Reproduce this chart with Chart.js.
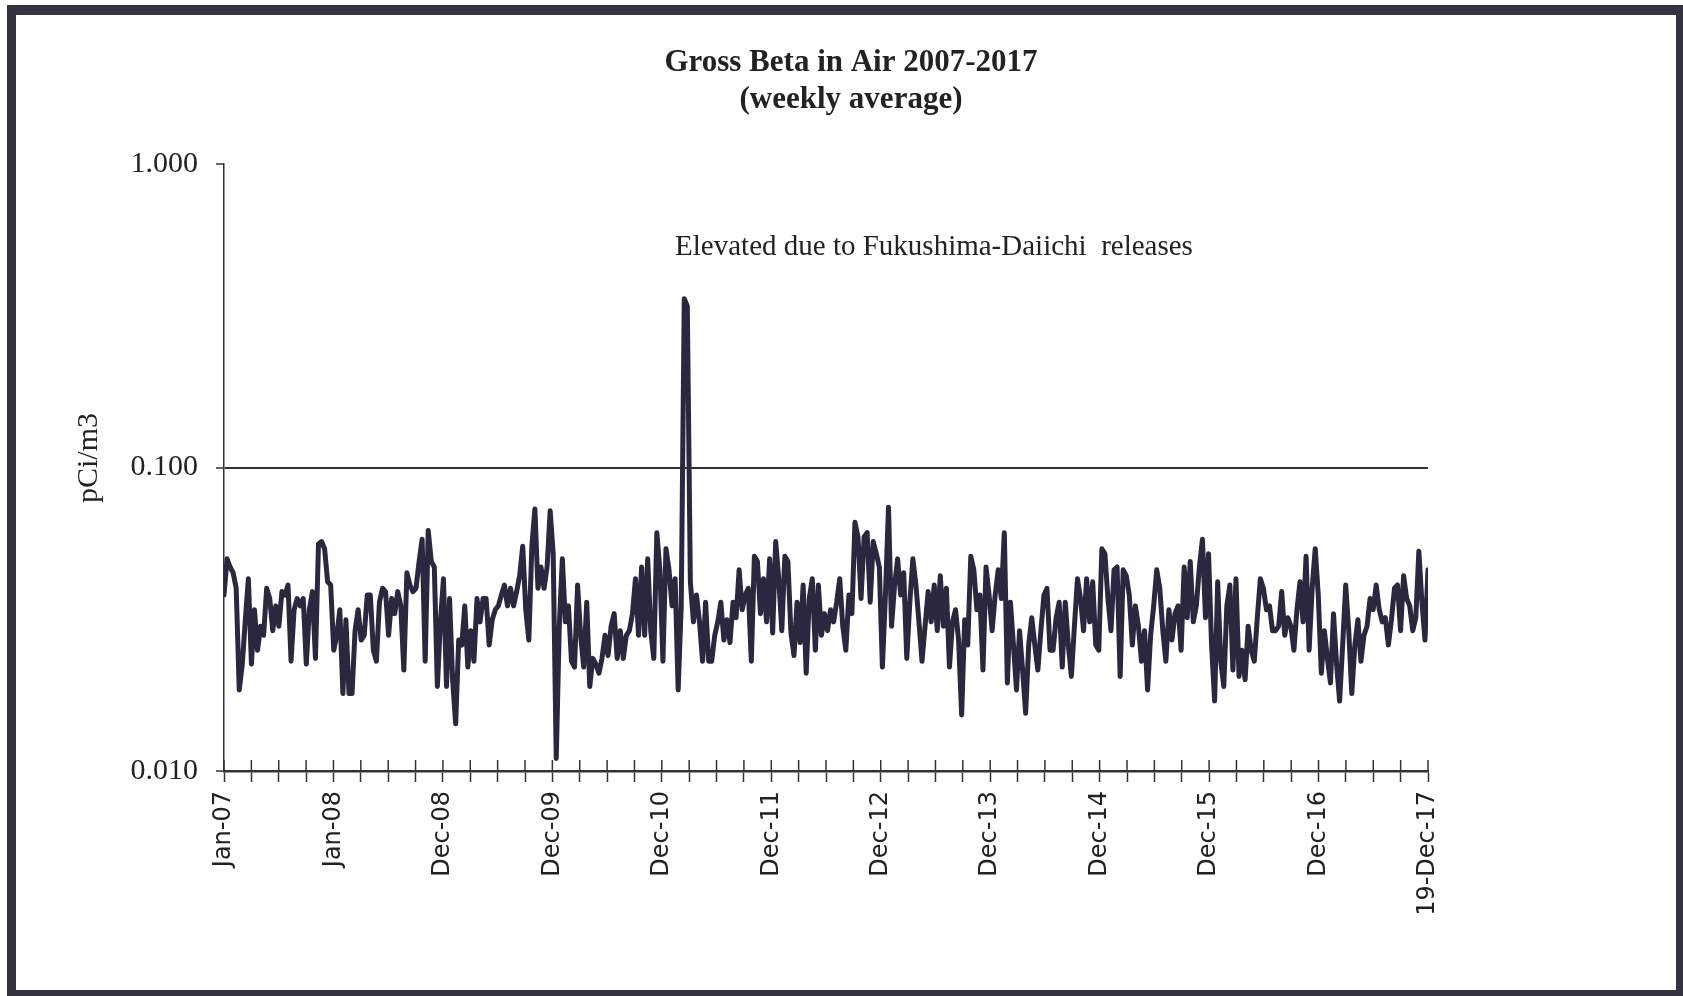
<!DOCTYPE html>
<html>
<head>
<meta charset="utf-8">
<title>Gross Beta in Air 2007-2017</title>
<script src="https://cdn.jsdelivr.net/npm/chart.js@4.4.0/dist/chart.umd.min.js"></script>
<style>
  body { margin: 0; background: #fff; overflow: hidden; }
  #wrap { position: relative; width: 1683px; height: 996px; overflow: hidden; }
  #frame { position: absolute; left: 7px; top: 5px; width: 1660px; height: 975px; border-style: solid; border-color: #34333f; border-width: 10px 7px 6px 9px; pointer-events: none; }
  canvas { position: absolute; left: 0; top: 0; }
</style>
</head>
<body>
<div id="wrap">
  <canvas id="betaChart" width="1683" height="996"></canvas>
  <div id="frame"></div>
</div>
<script>
// weekly gross beta, pCi/m3 in consecutive stretches
const part1 = [0.038,0.050,0.047,0.045,0.040,0.0185,0.0225,0.0315,0.043,0.0225,0.034,0.025,0.030,0.028,0.040,0.037,0.029,0.035,0.030,0.039,0.038,0.041,0.023,0.034,0.037,0.035,0.037,0.0225,0.034,0.039,0.0235,0.056,0.057,0.054,0.042,0.041,0.025,0.028,0.034,0.018,0.0315,0.018,0.018,0.029,0.034,0.027,0.028,0.038,0.038,0.025];
const part2 = [0.023,0.036,0.040,0.039,0.028,0.037,0.033,0.039,0.035,0.0215,0.045,0.041,0.039,0.040,0.049,0.058,0.023,0.062,0.049,0.047,0.019,0.031,0.043,0.019,0.037,0.020,0.0143,0.027,0.026,0.035,0.022,0.029,0.023,0.037,0.031,0.037,0.037,0.026,0.0315,0.034,0.035,0.038,0.041,0.035,0.040,0.035,0.039,0.044,0.055];
const part3 = [0.034,0.027,0.055,0.073,0.040,0.047,0.040,0.047,0.072,0.052,0.011,0.030,0.050,0.031,0.035,0.023,0.022,0.041,0.028,0.022,0.036,0.019,0.0235,0.0225,0.021,0.0235,0.028,0.024,0.030,0.033,0.0235,0.029,0.0235,0.028,0.029,0.033,0.043,0.028,0.047,0.028,0.050,0.029,0.0235,0.061,0.046,0.023,0.054,0.046,0.035,0.043,0.0185];
const part4 = [0.035,0.36,0.34,0.042,0.031,0.038,0.031,0.023,0.036,0.023,0.023,0.028,0.031,0.036,0.027,0.0315,0.0265,0.036,0.032,0.046,0.034,0.038,0.040,0.023,0.051,0.049,0.033,0.043,0.031,0.050,0.0285,0.057,0.043,0.029,0.051,0.049,0.0285,0.024,0.036,0.0265,0.041,0.021,0.037,0.043,0.025,0.041,0.028,0.033,0.029];
const part5 = [0.034,0.031,0.036,0.043,0.030,0.025,0.038,0.033,0.066,0.059,0.037,0.059,0.061,0.036,0.057,0.052,0.047,0.022,0.038,0.074,0.030,0.041,0.050,0.038,0.045,0.0235,0.036,0.050,0.041,0.031,0.023,0.030,0.039,0.031,0.041,0.029,0.044,0.030,0.040,0.022,0.031,0.034,0.027,0.0153,0.0315,0.026,0.051,0.046,0.034];
const part6 = [0.038,0.0215,0.047,0.038,0.029,0.038,0.046,0.037,0.061,0.0195,0.036,0.026,0.0185,0.029,0.0215,0.0155,0.026,0.032,0.026,0.0215,0.029,0.038,0.040,0.025,0.025,0.032,0.036,0.022,0.036,0.026,0.0205,0.030,0.043,0.037,0.029,0.043,0.031,0.042,0.026,0.025,0.054,0.052,0.037,0.029,0.046,0.047,0.0205,0.046,0.044];
const part7 = [0.038,0.026,0.035,0.030,0.023,0.029,0.0185,0.028,0.035,0.046,0.040,0.029,0.023,0.034,0.027,0.033,0.035,0.025,0.047,0.032,0.049,0.031,0.035,0.047,0.058,0.032,0.052,0.026,0.017,0.042,0.023,0.019,0.035,0.041,0.0215,0.043,0.0205,0.025,0.020,0.030,0.025,0.023,0.032,0.043,0.040,0.034,0.035,0.029];
const part8 = [0.029,0.030,0.039,0.028,0.032,0.030,0.025,0.034,0.042,0.031,0.051,0.025,0.040,0.054,0.038,0.021,0.029,0.0235,0.0195,0.033,0.0225,0.017,0.026,0.041,0.029,0.018,0.026,0.0315,0.023,0.028,0.030,0.037,0.034,0.041,0.034,0.031,0.032,0.026,0.0315,0.040,0.041,0.029,0.044,0.037,0.035,0.029,0.032,0.053,0.036,0.027,0.046];

const xLabels = ['Jan-07','Jan-08','Dec-08','Dec-09','Dec-10','Dec-11','Dec-12','Dec-13','Dec-14','Dec-15','Dec-16','19-Dec-17'];
const yTicks = [0.01, 0.1, 1];
const refLevel = 0.1;
const titleLines = ['Gross Beta in Air 2007-2017', '(weekly average)'];
const note = 'Elevated due to Fukushima-Daiichi  releases';

const weekly = [].concat(part1, part2, part3, part4, part5, part6, part7, part8);
const N = weekly.length;
const minorPerLabel = 4;
const tickSteps = (xLabels.length - 1) * minorPerLabel;

const decor = {
  id: 'decor',
  afterDraw(chart) {
    const { ctx, chartArea, scales } = chart;
    ctx.save();
    // upper half of the cross ticks on the date axis
    ctx.strokeStyle = '#333';
    ctx.lineWidth = 1.5;
    scales.x.ticks.forEach(t => {
      const px = scales.x.getPixelForValue(t.value);
      ctx.beginPath();
      ctx.moveTo(px, chartArea.bottom - 11);
      ctx.lineTo(px, chartArea.bottom);
      ctx.stroke();
    });
    ctx.fillStyle = '#222';
    ctx.textAlign = 'center';
    ctx.textBaseline = 'middle';
    ctx.font = 'bold 31px "Liberation Serif"';
    ctx.fillText(titleLines[0], 851, 63);
    ctx.fillText(titleLines[1], 851, 100);
    ctx.font = '29px "Liberation Serif"';
    ctx.fillText(note, 934, 247);
    ctx.translate(89, 458);
    ctx.rotate(-Math.PI / 2);
    ctx.font = '30px "Liberation Serif"';
    ctx.fillText('pCi/m3', 0, 0);
    ctx.restore();
  }
};

new Chart(document.getElementById('betaChart'), {
  type: 'line',
  data: {
    datasets: [{
      data: weekly.map((v, i) => ({ x: i, y: v })),
      borderColor: '#29283f',
      borderWidth: 5,
      borderJoinStyle: 'round',
      borderCapStyle: 'round',
      pointRadius: 0,
      tension: 0
    }]
  },
  options: {
    responsive: false,
    animation: false,
    devicePixelRatio: 1,
    layout: { padding: { top: 164, right: 255, left: 0, bottom: 0 } },
    plugins: { legend: { display: false }, tooltip: { enabled: false } },
    scales: {
      x: {
        type: 'linear',
        min: 0,
        max: N - 1,
        afterBuildTicks: s => {
          s.ticks = [];
          for (let i = 0; i <= tickSteps; i++) s.ticks.push({ value: i * (N - 1) / tickSteps });
        },
        afterFit: s => { s.height = 225; },
        grid: { drawOnChartArea: false, tickLength: 11, tickColor: '#333', tickWidth: 1.5 },
        border: { color: '#333', width: 2.5 },
        ticks: {
          autoSkip: false,
          maxRotation: 90,
          minRotation: 90,
          padding: 9,
          color: '#222',
          font: { family: 'DejaVu Sans', size: 24 },
          callback: (v, i) => (i % minorPerLabel === 0 ? xLabels[i / minorPerLabel] : '')
        }
      },
      y: {
        type: 'logarithmic',
        min: 0.01,
        max: 1,
        afterBuildTicks: s => { s.ticks = yTicks.map(v => ({ value: v })); },
        afterFit: s => { s.width = 224; },
        grid: {
          color: c => (c.tick && c.tick.value === refLevel ? '#333' : 'rgba(0,0,0,0)'),
          lineWidth: 2,
          tickLength: 8,
          tickColor: '#333',
          tickWidth: 1.5
        },
        border: { color: '#333', width: 1.5 },
        ticks: {
          padding: 18,
          color: '#222',
          font: { family: 'Liberation Serif', size: 30 },
          callback: v => v.toFixed(3)
        }
      }
    }
  },
  plugins: [decor]
});
</script>
</body>
</html>
